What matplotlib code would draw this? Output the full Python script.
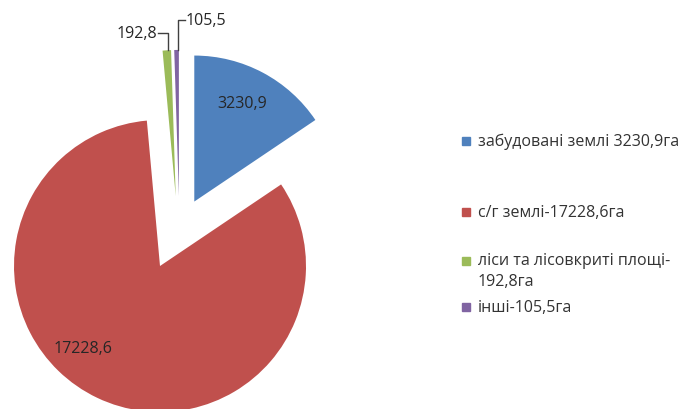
import numpy as np
import matplotlib
matplotlib.use("Agg")
import matplotlib.pyplot as plt
from matplotlib.patches import Rectangle

plt.rcParams['font.family'] = ['Open Sans', 'DejaVu Sans']

values = [3230.9, 17228.6, 192.8, 105.5]
value_labels = ['3230,9', '17228,6', '192,8', '105,5']
legend_labels = ['забудовані землі 3230,9га',
                 'с/г землі-17228,6га',
                 'ліси та лісовкриті площі-\n192,8га',
                 'інші-105,5га']
colors = ['#4F81BD', '#C0504D', '#9BBB59', '#8064A2']
explode_frac = [0.5, 0, 0.48, 0.48]

R = 146
fig = plt.figure(figsize=(6.85, 4.10), dpi=100)
ax = fig.add_axes([0, 0, 1, 1])

wedges, _ = ax.pie(values, colors=colors, explode=[e * R for e in explode_frac],
                   startangle=90, counterclock=False, center=(160, 143),
                   radius=R, frame=True)
ax.set_xlim(0, 685)
ax.set_ylim(0, 410)
ax.set_aspect('equal')
ax.axis('off')

# the thin slices sit a little to the right in the original
for w in wedges[2:]:
    cx, cy = w.center
    w.set_center((cx + 20, cy))


def point_on(w, frac, ang=None):
    if ang is None:
        ang = (w.theta1 + w.theta2) / 2
    cx, cy = w.center
    a = np.deg2rad(ang)
    return cx + frac * w.r * np.cos(a), cy + frac * w.r * np.sin(a)


fs = 11.5
tc = '#262626'
# labels inside big slices
x, y = point_on(wedges[0], 0.75, 64)
ax.text(x, y, value_labels[0], ha='center', va='center', fontsize=fs, color=tc)
x, y = point_on(wedges[1], 0.77, 227)
ax.text(x, y, value_labels[1], ha='center', va='center', fontsize=fs, color=tc)

# leader lines for thin slices
gx, gy = point_on(wedges[2], 1.0)
ax.plot([gx + 1, gx + 1, gx - 9], [gy, gy + 17, gy + 17], color='#404040', lw=1)
ax.text(gx - 10, gy + 17, value_labels[2], ha='right', va='center', fontsize=fs, color=tc)
px, py = point_on(wedges[3], 1.0)
ax.plot([px + 1, px + 1, px + 8], [py, py + 30, py + 30], color='#404040', lw=1)
ax.text(px + 9, py + 30, value_labels[3], ha='left', va='center', fontsize=fs, color=tc)

# legend
legend_y = [142, 213, 262, 308]
for lab, c, ly in zip(legend_labels, colors, legend_y):
    fig.patches.append(Rectangle((462 / 685, 1 - (ly + 4) / 410), 8 / 685, 8 / 410,
                                 transform=fig.transFigure, color=c))
    fig.text(478 / 685, 1 - (ly - 9) / 410 if '\n' in lab else 1 - ly / 410, lab,
             ha='left', va='top' if '\n' in lab else 'center',
             fontsize=fs, color='#333333', linespacing=1.45,
             transform=fig.transFigure)

fig.savefig('out.png', dpi=100)
